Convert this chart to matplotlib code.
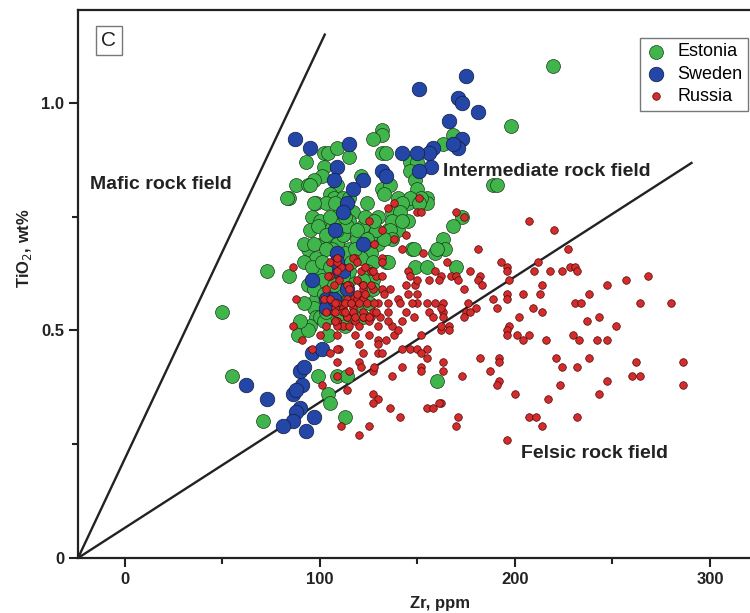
import numpy as np
from matplotlib import pyplot as plt

plt.rcParams['font.family'] = ['Liberation Sans', 'DejaVu Sans']

# (Zr ppm, TiO2 wt%)
estonia = [
    (219.5, 1.08), (198, 0.95), (132, 0.94), (132, 0.93), (127, 0.92), (168, 0.93), (163, 0.91),
    (102, 0.89), (104, 0.89), (109, 0.90), (115, 0.88), (132, 0.89), (134, 0.89), (93, 0.87),
    (102, 0.86), (101, 0.84), (97, 0.83), (88, 0.82), (94, 0.82), (95, 0.82), (109, 0.82), (105, 0.80),
    (107, 0.79), (84, 0.79), (98, 0.78), (103, 0.78), (112, 0.79), (121, 0.84), (132, 0.81),
    (136, 0.82), (146, 0.87), (150, 0.87), (146, 0.85), (149, 0.83), (150, 0.81), (155, 0.79),
    (145, 0.78), (140, 0.79), (189, 0.82), (191, 0.82), (155, 0.78), (152, 0.79), (130, 0.75),
    (138, 0.74), (140, 0.72), (145, 0.74), (135, 0.72), (173, 0.75), (168, 0.73), (163, 0.70),
    (164, 0.68), (159, 0.67), (147, 0.68), (149, 0.64), (155, 0.64), (170, 0.64), (134, 0.65),
    (130, 0.69), (133, 0.80), (146, 0.79), (142, 0.78), (151, 0.78), (137, 0.76), (141, 0.76),
    (137, 0.74), (142, 0.74), (136, 0.72), (137, 0.70), (133, 0.70), (126, 0.71), (129, 0.72),
    (122, 0.73), (117, 0.76), (115, 0.74), (112, 0.71), (119, 0.70), (124, 0.69), (126, 0.67),
    (121, 0.66), (127, 0.65), (135, 0.65), (124, 0.63), (127, 0.61), (122, 0.61), (127, 0.59),
    (122, 0.57), (125, 0.56), (119, 0.56), (110, 0.56), (108, 0.58), (112, 0.59), (115, 0.61),
    (109, 0.62), (110, 0.64), (115, 0.63), (107, 0.70), (110, 0.68), (115, 0.68), (108, 0.74),
    (110, 0.76), (108, 0.78), (115, 0.79), (124, 0.78), (148, 0.68), (160, 0.68), (118, 0.53),
    (122, 0.53), (83, 0.79), (97, 0.78), (73, 0.63), (84, 0.62), (50, 0.54), (94, 0.68),
    (98, 0.66), (101, 0.69), (105, 0.70), (109, 0.69), (112, 0.71), (109, 0.72), (114, 0.73),
    (99, 0.63), (101, 0.61), (98, 0.57), (97, 0.55), (98, 0.53), (95, 0.51), (105, 0.53),
    (110, 0.52), (107, 0.60), (112, 0.62), (106, 0.68), (104, 0.72), (55, 0.40), (71, 0.30),
    (89, 0.49), (94, 0.50), (104, 0.49), (99, 0.40), (109, 0.40), (114, 0.40), (104, 0.36),
    (105, 0.34), (113, 0.31), (160, 0.39), (100, 0.53), (102, 0.52), (96, 0.75), (100, 0.74),
    (105, 0.75), (113, 0.75), (123, 0.75), (128, 0.74), (95, 0.72), (99, 0.73), (103, 0.71),
    (119, 0.72), (124, 0.70), (92, 0.69), (97, 0.69), (103, 0.68), (113, 0.67), (118, 0.68),
    (92, 0.65), (96, 0.64), (101, 0.65), (105, 0.64), (116, 0.65), (94, 0.60), (97, 0.59),
    (102, 0.58), (105, 0.57), (115, 0.57), (92, 0.56), (103, 0.54), (90, 0.52), (113, 0.51),
]

sweden = [
    (175, 1.06), (151, 1.03), (171, 1.01), (173, 1.00), (181, 0.98), (166, 0.96), (173, 0.92),
    (171, 0.90), (168, 0.91), (158, 0.90), (156, 0.89), (150, 0.89), (142, 0.89), (157, 0.86),
    (151, 0.85), (132, 0.85), (134, 0.84), (87, 0.92), (95, 0.90), (115, 0.91), (109, 0.86),
    (107, 0.83), (122, 0.83), (117, 0.81), (114, 0.78), (112, 0.76), (108, 0.72), (122, 0.69),
    (109, 0.67), (110, 0.63), (112, 0.63), (109, 0.65), (96, 0.61), (103, 0.57), (103, 0.55),
    (114, 0.59), (107, 0.57), (96, 0.45), (101, 0.46), (90, 0.41), (92, 0.42), (91, 0.38),
    (86, 0.36), (88, 0.37), (62, 0.38), (73, 0.35), (90, 0.33), (88, 0.32), (97, 0.31),
    (86, 0.30), (81, 0.29), (93, 0.28),
]

russia = [
    (170, 0.76), (174, 0.75), (207, 0.74), (220, 0.72), (181, 0.68), (227, 0.68), (165, 0.65),
    (193, 0.65), (196, 0.64), (212, 0.65), (177, 0.63), (196, 0.63), (210, 0.63), (218, 0.63),
    (224, 0.63), (228, 0.64), (231, 0.64), (232, 0.63), (167, 0.62), (170, 0.62), (182, 0.62),
    (181, 0.61), (171, 0.61), (183, 0.60), (197, 0.61), (214, 0.60), (247, 0.60), (257, 0.61),
    (268, 0.62), (174, 0.59), (204, 0.58), (196, 0.58), (196, 0.57), (213, 0.58), (238, 0.58),
    (189, 0.57), (191, 0.55), (176, 0.56), (180, 0.55), (175, 0.54), (177, 0.54), (174, 0.53),
    (163, 0.56), (163, 0.54), (209, 0.55), (214, 0.54), (231, 0.56), (234, 0.56), (264, 0.56),
    (280, 0.56), (202, 0.53), (243, 0.53), (237, 0.52), (252, 0.51), (197, 0.51), (196, 0.50),
    (196, 0.49), (201, 0.49), (207, 0.49), (204, 0.48), (216, 0.48), (230, 0.49), (233, 0.48),
    (242, 0.48), (247, 0.48), (166, 0.51), (166, 0.50), (182, 0.44), (192, 0.44), (192, 0.43),
    (221, 0.44), (238, 0.44), (163, 0.43), (163, 0.41), (173, 0.40), (187, 0.41), (224, 0.42),
    (232, 0.42), (262, 0.43), (286, 0.43), (260, 0.40), (264, 0.40), (192, 0.39), (191, 0.38),
    (223, 0.38), (247, 0.39), (286, 0.38), (200, 0.36), (217, 0.35), (243, 0.36), (162, 0.34),
    (171, 0.31), (170, 0.29), (207, 0.31), (211, 0.31), (214, 0.29), (232, 0.31), (196, 0.26),
    (109, 0.49), (118, 0.49), (120, 0.47), (125, 0.49), (130, 0.51), (130, 0.48), (130, 0.47),
    (134, 0.48), (138, 0.49), (140, 0.50), (142, 0.52), (137, 0.51), (152, 0.49), (162, 0.50),
    (110, 0.46), (122, 0.45), (130, 0.45), (132, 0.45), (142, 0.46), (146, 0.46), (150, 0.46),
    (155, 0.46), (152, 0.45), (155, 0.44), (109, 0.43), (120, 0.43), (121, 0.42), (127, 0.41),
    (128, 0.42), (142, 0.42), (152, 0.42), (152, 0.41), (115, 0.41), (109, 0.40), (137, 0.40),
    (114, 0.37), (127, 0.36), (130, 0.35), (127, 0.34), (136, 0.33), (155, 0.33), (158, 0.33),
    (161, 0.34), (141, 0.31), (111, 0.29), (125, 0.29), (120, 0.27),
    (138, 0.78), (135, 0.77), (151, 0.79), (150, 0.76), (152, 0.76), (125, 0.74), (132, 0.72),
    (144, 0.71), (138, 0.70), (128, 0.69), (142, 0.68), (153, 0.67), (118, 0.66), (132, 0.66),
    (132, 0.65), (111, 0.64), (109, 0.63), (121, 0.63), (126, 0.63), (145, 0.63), (159, 0.63),
    (129, 0.62), (132, 0.62), (146, 0.62), (162, 0.62), (122, 0.60), (115, 0.60), (149, 0.60),
    (150, 0.61), (156, 0.61), (161, 0.61), (136, 0.59), (132, 0.59), (133, 0.58), (144, 0.60),
    (145, 0.58), (127, 0.59), (122, 0.59), (117, 0.57), (114, 0.57), (119, 0.57), (122, 0.57),
    (135, 0.56), (140, 0.57), (150, 0.58), (150, 0.56), (155, 0.56), (159, 0.56), (147, 0.56),
    (112, 0.55), (117, 0.55), (130, 0.56), (141, 0.56), (144, 0.54), (156, 0.54), (162, 0.55),
    (107, 0.54), (114, 0.53), (122, 0.53), (126, 0.53), (131, 0.53), (135, 0.54), (148, 0.53),
    (158, 0.53), (163, 0.53), (109, 0.52), (112, 0.51), (118, 0.52), (125, 0.52), (135, 0.52),
    (162, 0.51),
    (86, 0.64), (88, 0.57), (86, 0.51), (91, 0.48), (96, 0.46), (105, 0.45), (101, 0.38),
    (109, 0.46), (105, 0.65), (109, 0.65), (117, 0.66), (119, 0.65), (115, 0.64), (123, 0.64),
    (127, 0.63), (105, 0.62), (110, 0.61), (114, 0.60), (119, 0.61), (122, 0.60), (126, 0.60),
    (115, 0.59), (119, 0.58), (123, 0.58), (102, 0.57), (105, 0.57), (109, 0.56), (113, 0.56),
    (116, 0.56), (120, 0.56), (124, 0.56), (128, 0.56), (108, 0.55), (112, 0.54), (117, 0.54),
    (122, 0.54), (127, 0.54), (114, 0.53), (118, 0.53), (122, 0.53), (115, 0.51), (120, 0.51),
    (125, 0.53), (103, 0.51), (109, 0.52), (109, 0.51), (129, 0.54), (100, 0.49), (109, 0.66),
    (104, 0.62), (103, 0.59), (107, 0.60), (108, 0.56), (103, 0.54), (108, 0.54), (113, 0.54),
    (108, 0.52),
]

# field boundary lines, both start at the lower left corner
mafic_line_zr = [-24, 102.5]
mafic_line_ti = [0, 1.15]
felsic_line_zr = [-24, 290.5]
felsic_line_ti = [0, 0.868]

green = '#3fb54b'
blue = '#2446a6'
red = '#d42b2b'
ink = '#222222'

fig = plt.figure(figsize=(7.5, 6.13), dpi=100)
ax = fig.add_axes([0.104, 0.0897, 0.896, 0.8932])

ax.plot(mafic_line_zr, mafic_line_ti, color=ink, lw=1.7, zorder=1)
ax.plot(felsic_line_zr, felsic_line_ti, color=ink, lw=1.7, zorder=1)

ez, et = zip(*estonia)
sz, st = zip(*sweden)
rz, rt = zip(*russia)
ax.scatter(ez, et, s=100, c=green, edgecolors='#1c3a1c', linewidths=0.5, label='Estonia', zorder=2)
ax.scatter(sz, st, s=110, c=blue, edgecolors='#101c40', linewidths=0.5, label='Sweden', zorder=3)
ax.scatter(rz, rt, s=30, c=red, edgecolors='#4a0a0a', linewidths=0.5, label='Russia', zorder=4)

ax.set_xlim(-24, 320.5)
ax.set_ylim(0, 1.203)

ax.set_xticks([0, 100, 200, 300])
ax.set_xticks([50, 150, 250], minor=True)
ax.set_yticks([0, 0.5, 1.0])
ax.set_yticklabels(['0', '0.5', '1.0'])
ax.set_yticks([0.25, 0.75], minor=True)
ax.tick_params(which='major', direction='out', length=6.5, width=1.5, labelsize=12, colors=ink)
ax.tick_params(which='minor', direction='out', length=4, width=1.5, colors=ink)
for lab in ax.get_xticklabels() + ax.get_yticklabels():
    lab.set_fontweight('bold')

for side in ['left', 'bottom', 'top']:
    ax.spines[side].set_linewidth(1.6)
    ax.spines[side].set_color(ink)
ax.spines['right'].set_visible(False)

ax.set_xlabel('Zr, ppm', fontsize=12, fontweight='bold', color=ink)
ax.xaxis.set_label_coords(0.539, -0.07)
ax.set_ylabel('TiO$_2$, wt%', fontsize=12, fontweight='bold', color=ink)
ax.yaxis.set_label_coords(-0.066, 0.566)

ax.text(-17.9, 0.82, 'Mafic rock field', fontsize=14, fontweight='bold', color=ink, va='center')
ax.text(163.1, 0.849, 'Intermediate rock field', fontsize=14, fontweight='bold', color=ink, va='center')
ax.text(203, 0.229, 'Felsic rock field', fontsize=14, fontweight='bold', color=ink, va='center')

ax.text(0.046, 0.945, 'C', transform=ax.transAxes, fontsize=15, va='center', ha='center', color=ink,
        bbox=dict(boxstyle='square,pad=0.25', fc='white', ec='#777777', lw=1))

leg = ax.legend(loc='upper right', bbox_to_anchor=(0.997, 0.95), fontsize=13, frameon=True,
                fancybox=False, edgecolor='#555555', borderpad=0.3, handletextpad=0.6,
                labelspacing=0.3, handlelength=1.2, borderaxespad=0)
leg.get_frame().set_linewidth(1)
leg.legend_handles[0].set_sizes([100])
leg.legend_handles[1].set_sizes([110])
leg.legend_handles[2].set_sizes([30])

plt.savefig('out.png', dpi=100)
